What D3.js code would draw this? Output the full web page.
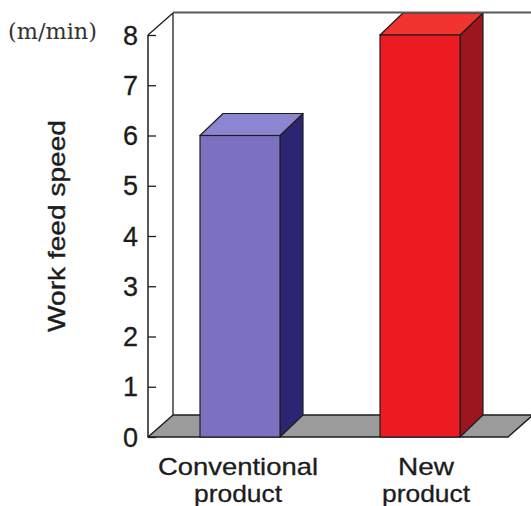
<!DOCTYPE html>
<html>
<head>
<meta charset="utf-8">
<script src="https://cdn.jsdelivr.net/npm/d3@7"></script>
<style>
  html, body { margin: 0; padding: 0; background: #fff; }
  svg { display: block; }
</style>
</head>
<body>
<svg id="chart" width="531" height="506"></svg>
<script>
// Chart data
const categories = ["Conventional product", "New product"];
const categoryLines = [["Conventional", "product"], ["New", "product"]];
const speeds = [6, 8];
const yTicks = [0, 1, 2, 3, 4, 5, 6, 7, 8];
const unitLabel = "(m/min)";
const axisTitle = "Work feed speed";

// Bar face colours (front, top, side) per category
const palette = {
  "Conventional product": { front: "#7b71c0", top: "#8c85d2", side: "#2c2573" },
  "New product": { front: "#ec1b23", top: "#f2342f", side: "#9c1620" }
};

// Widths the label lines are set to
const lineWidths = { "Conventional": 160, "product": 88, "New": 56 };

const W = 531, H = 506;
const svg = d3.select("#chart");
svg.append("rect").attr("width", W).attr("height", H).attr("fill", "#fff");

// Scales
const y = d3.scaleLinear().domain([0, 8]).range([437, 35]);
const x = d3.scaleBand().domain(categories).range([150, 510])
  .paddingInner(0.5556).paddingOuter(0.2778);

// 3D offsets: wall/floor depth and bar depth
const axisX = 148, floorRight = 508;
const wdx = 25, wdy = -22;
const bdx = 23, bdy = -22;
const ink = "#1e1e1e";
const textInk = "#1c1c1c";

const g = svg.append("g");

// Floor
const y0 = y(0);
g.append("polygon")
  .attr("points", [
    [axisX, y0], [floorRight, y0],
    [floorRight + wdx, y0 + wdy], [axisX + wdx, y0 + wdy]
  ].map(p => p.join(",")).join(" "))
  .attr("fill", "#9b9b9b")
  .attr("stroke", ink).attr("stroke-width", 1.4).attr("stroke-linejoin", "round");

// Back wall edges (left vertical and diagonal)
const yTop = y(8);
g.append("line")
  .attr("x1", axisX + wdx).attr("y1", yTop + wdy)
  .attr("x2", axisX + wdx).attr("y2", y0 + wdy)
  .attr("stroke", ink).attr("stroke-width", 1.3);
g.append("line")
  .attr("x1", axisX).attr("y1", yTop)
  .attr("x2", axisX + wdx).attr("y2", yTop + wdy)
  .attr("stroke", ink).attr("stroke-width", 1.3);

// Bars as boxes: side, top, front
const pts = arr => arr.map(p => p.join(",")).join(" ");
const bars = g.selectAll("g.bar").data(categories.map((c, i) => ({ c, v: speeds[i] })))
  .join("g").attr("class", "bar");

bars.append("polygon") // side face
  .attr("points", d => {
    const x1 = x(d.c) + x.bandwidth(), yt = y(d.v);
    return pts([[x1, yt], [x1 + bdx, yt + bdy], [x1 + bdx, y0 + bdy], [x1, y0]]);
  })
  .attr("fill", d => palette[d.c].side)
  .attr("stroke", ink).attr("stroke-width", 1.2).attr("stroke-linejoin", "round");

bars.append("polygon") // top face
  .attr("points", d => {
    const x0 = x(d.c), x1 = x0 + x.bandwidth(), yt = y(d.v);
    return pts([[x0, yt], [x0 + bdx, yt + bdy], [x1 + bdx, yt + bdy], [x1, yt]]);
  })
  .attr("fill", d => palette[d.c].top)
  .attr("stroke", ink).attr("stroke-width", 1.2).attr("stroke-linejoin", "round");

bars.append("rect") // front face
  .attr("x", d => x(d.c))
  .attr("y", d => y(d.v))
  .attr("width", x.bandwidth())
  .attr("height", d => y0 - y(d.v))
  .attr("fill", d => palette[d.c].front)
  .attr("stroke", ink).attr("stroke-width", 1.2);

// Back wall top edge, running past the right border
g.append("line")
  .attr("x1", axisX + wdx).attr("y1", yTop + wdy - 0.5)
  .attr("x2", W + 5).attr("y2", yTop + wdy - 0.5)
  .attr("stroke", "#5a5a5a").attr("stroke-width", 2);

// Front value axis with ticks on the inside
const axis = d3.axisRight(y).tickValues(yTicks).tickSize(8).tickFormat("");
const ax = g.append("g").attr("transform", `translate(${axisX},0)`).call(axis);
ax.select(".domain").remove();
ax.selectAll(".tick line").attr("stroke", ink).attr("stroke-width", 1.3);
g.append("line")
  .attr("x1", axisX).attr("y1", yTop).attr("x2", axisX).attr("y2", y0)
  .attr("stroke", ink).attr("stroke-width", 1.5);

// Tick labels
g.selectAll("text.tick-label").data(yTicks).join("text")
  .attr("class", "tick-label")
  .attr("x", 138).attr("y", d => y(d))
  .attr("dy", "0.36em")
  .attr("text-anchor", "end")
  .attr("font-family", "Liberation Sans, Arial, sans-serif")
  .attr("font-size", 27)
  .attr("fill", textInk)
  .attr("stroke", textInk).attr("stroke-width", 0.3)
  .text(d => d);

// Unit label
svg.append("text")
  .attr("x", 8).attr("y", 39)
  .attr("font-family", "DejaVu Serif, Liberation Serif, serif")
  .attr("font-size", 23)
  .attr("textLength", 89).attr("lengthAdjust", "spacingAndGlyphs")
  .attr("fill", "#333")
  .text(unitLabel);

// Axis title
svg.append("text")
  .attr("transform", "translate(65,226) rotate(-90)")
  .attr("text-anchor", "middle")
  .attr("font-family", "Liberation Sans, Arial, sans-serif")
  .attr("font-size", 24)
  .attr("textLength", 212).attr("lengthAdjust", "spacingAndGlyphs")
  .attr("fill", textInk)
  .attr("stroke", textInk).attr("stroke-width", 0.4)
  .text(axisTitle);

// Category labels, two lines each
const labelX = [238, 426];
categories.forEach((c, i) => {
  categoryLines[i].forEach((line, j) => {
    svg.append("text")
      .attr("x", labelX[i])
      .attr("y", 475 + j * 27)
      .attr("text-anchor", "middle")
      .attr("font-family", "Liberation Sans, Arial, sans-serif")
      .attr("font-size", 24)
      .attr("textLength", lineWidths[line])
      .attr("lengthAdjust", "spacingAndGlyphs")
      .attr("fill", textInk)
      .attr("stroke", textInk).attr("stroke-width", 0.3)
      .text(line);
  });
});
</script>
</body>
</html>
